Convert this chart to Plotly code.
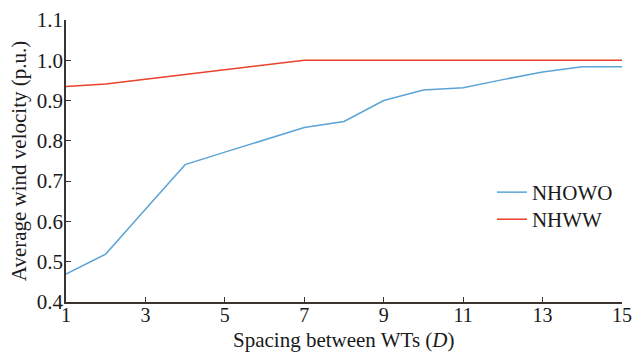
import plotly.graph_objects as go

spacing = [1, 2, 3, 4, 5, 6, 7, 8, 9, 10, 11, 12, 13, 14, 15]
nhowo = [0.469, 0.519, 0.630, 0.741, 0.772, 0.803, 0.833, 0.848, 0.900, 0.926, 0.932, 0.952, 0.971, 0.984, 0.984]
nhww = [0.935, 0.941, 0.953, 0.965, 0.977, 0.988, 1.000, 1.000, 1.000, 1.000, 1.000, 1.000, 1.000, 1.000, 1.000]
x_ticks = [1, 3, 5, 7, 9, 11, 13, 15]
y_ticks = [0.4, 0.5, 0.6, 0.7, 0.8, 0.9, 1.0, 1.1]
y_ticklabels = ["0.4", "0.5", "0.6", "0.7", "0.8", "0.9", "1.0", "1.1"]
x_title = "Spacing between WTs (<i>D</i>)"
y_title = "Average wind velocity (p.u.)"

font_family = "Liberation Serif, Times New Roman, serif"

fig = go.Figure()
fig.add_trace(go.Scatter(x=spacing, y=nhowo, mode="lines", name="NHOWO",
                         line=dict(color="#5BA4D6", width=1.5), legend="legend"))
fig.add_trace(go.Scatter(x=spacing, y=nhww, mode="lines", name="NHWW",
                         line=dict(color="#E8412C", width=1.5), legend="legend2"))

axis_common = dict(showline=True, linecolor="#3a3330", linewidth=1.5,
                   ticks="inside", ticklen=5, tickcolor="#3a3330", tickwidth=1.2,
                   showgrid=False, zeroline=False, automargin=False)

legend_common = dict(xanchor="left", yanchor="top", bgcolor="rgba(0,0,0,0)",
                     font=dict(family=font_family, size=21, color="#1a1a1a"),
                     itemwidth=30)

fig.update_layout(
    width=633, height=353,
    margin=dict(l=66, r=11, t=20, b=51),
    paper_bgcolor="white", plot_bgcolor="white",
    font=dict(family=font_family, size=21, color="#1a1a1a"),
    xaxis=dict(range=[1, 15], tickvals=x_ticks, ticklabelstandoff=-6,
               tickfont=dict(family=font_family, size=20, color="#1a1a1a"),
               **axis_common),
    yaxis=dict(range=[0.4, 1.1], tickvals=y_ticks, ticktext=y_ticklabels,
               ticklabelstandoff=-3,
               tickfont=dict(family=font_family, size=21, color="#1a1a1a"),
               title=dict(text=y_title, standoff=4,
                          font=dict(family=font_family, size=21)),
               **axis_common),
    legend=dict(x=0.766, y=0.461, **legend_common),
    legend2=dict(x=0.766, y=0.365, **legend_common),
    showlegend=True,
)

fig.add_annotation(text=x_title, xref="paper", yref="paper", x=0.5, y=-51 / 282,
                   xanchor="center", yanchor="bottom", showarrow=False,
                   font=dict(family=font_family, size=21, color="#1a1a1a"),
                   borderpad=0)

fig.write_html("out.html")
